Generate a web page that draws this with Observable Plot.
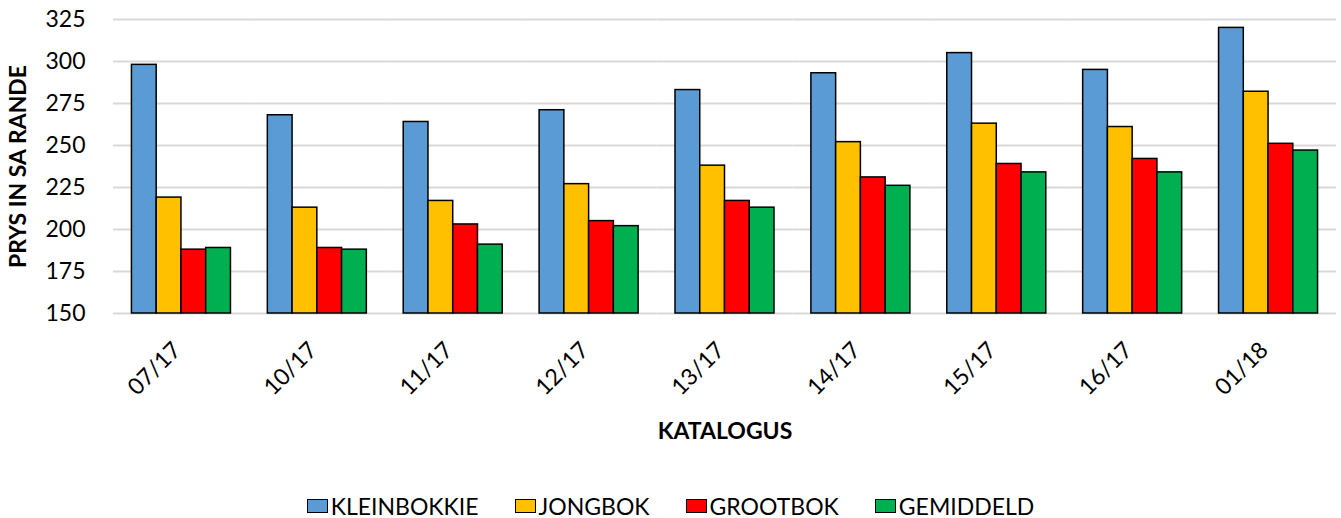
<!DOCTYPE html>
<html>
<head>
<meta charset="utf-8">
<script src="https://cdn.jsdelivr.net/npm/d3@7"></script>
<script src="https://cdn.jsdelivr.net/npm/@observablehq/plot@0.6"></script>
<style>
  html, body { margin: 0; padding: 0; background: #fff; }
  #wrap { position: relative; width: 1341px; height: 518px; font-family: Lato, "Open Sans", sans-serif; }
  #legend { position: absolute; left: 0; width: 1341px; top: 494px; height: 24px; display: flex; justify-content: center; align-items: center; }
  .item { display: flex; align-items: center; margin: 0 18px; font-size: 23px; color: #000; }
  .key { width: 19px; height: 12px; border: 1.5px solid #000; margin-right: 3px; }
  [aria-label="y-axis label"] text, [aria-label="fx-axis label"] text { font-weight: bold; }
</style>
</head>
<body>
<div id="wrap"></div>
<script>
const categories = ["07/17","10/17","11/17","12/17","13/17","14/17","15/17","16/17","01/18"];
const series = ["KLEINBOKKIE","JONGBOK","GROOTBOK","GEMIDDELD"];
const kleinbokkie = [298, 268, 264, 271, 283, 293, 305, 295, 320];
const jongbok     = [219, 213, 217, 227, 238, 252, 263, 261, 282];
const grootbok    = [188, 189, 203, 205, 217, 231, 239, 242, 251];
const gemiddeld   = [189, 188, 191, 202, 213, 226, 234, 234, 247];
const colors = ["#5B9BD5", "#FFC000", "#FF0000", "#00B050"];
const yTicks = [150, 175, 200, 225, 250, 275, 300, 325];
const yTitle = "PRYS IN SA RANDE";
const xTitle = "KATALOGUS";

const values = [kleinbokkie, jongbok, grootbok, gemiddeld];
const rows = [];
categories.forEach((c, i) => series.forEach((s, j) => rows.push({cat: c, series: s, value: values[j][i]})));

const chart = Plot.plot({
  width: 1341,
  height: 474,
  marginLeft: 113,
  marginRight: 5,
  marginTop: 19,
  marginBottom: 161,
  style: {fontFamily: "Lato, 'Open Sans', sans-serif", fontSize: "23px", color: "#000", background: "#fff"},
  fx: {domain: categories, paddingInner: 0, paddingOuter: 0, round: false, axis: "bottom", tickFormat: () => "", tickSize: 0,
       label: xTitle, labelAnchor: "center", labelOffset: 125},
  x: {domain: series, paddingInner: 0, paddingOuter: 0.745, round: false, axis: null},
  y: {domain: [yTicks[0], yTicks[yTicks.length - 1]], axis: null, labelArrow: "none"},
  color: {domain: series, range: colors},
  marks: [
    Plot.gridY(yTicks, {stroke: "#d9d9d9", strokeOpacity: 1, strokeWidth: 2}),
    Plot.barY(rows, {fx: "cat", x: "series", y1: yTicks[0], y2: "value", fill: "series", stroke: "#000", strokeWidth: 1.5}),
    Plot.axisY(yTicks, {tickSize: 0, tickPadding: 28, label: yTitle, labelArrow: "none", labelAnchor: "center", labelOffset: 104, fontSize: 23}),
    Plot.text(categories, {fx: d => d, text: d => d, frameAnchor: "bottom", rotate: -45, textAnchor: "end", dy: 38, dx: 1, fontSize: 23})
  ]
});
const wrap = document.getElementById("wrap");
wrap.appendChild(chart);

const legend = document.createElement("div");
legend.id = "legend";
series.forEach((s, j) => {
  const it = document.createElement("div");
  it.className = "item";
  const k = document.createElement("span");
  k.className = "key";
  k.style.background = colors[j];
  const t = document.createElement("span");
  t.textContent = s;
  it.appendChild(k); it.appendChild(t);
  legend.appendChild(it);
});
wrap.appendChild(legend);
</script>
</body>
</html>
